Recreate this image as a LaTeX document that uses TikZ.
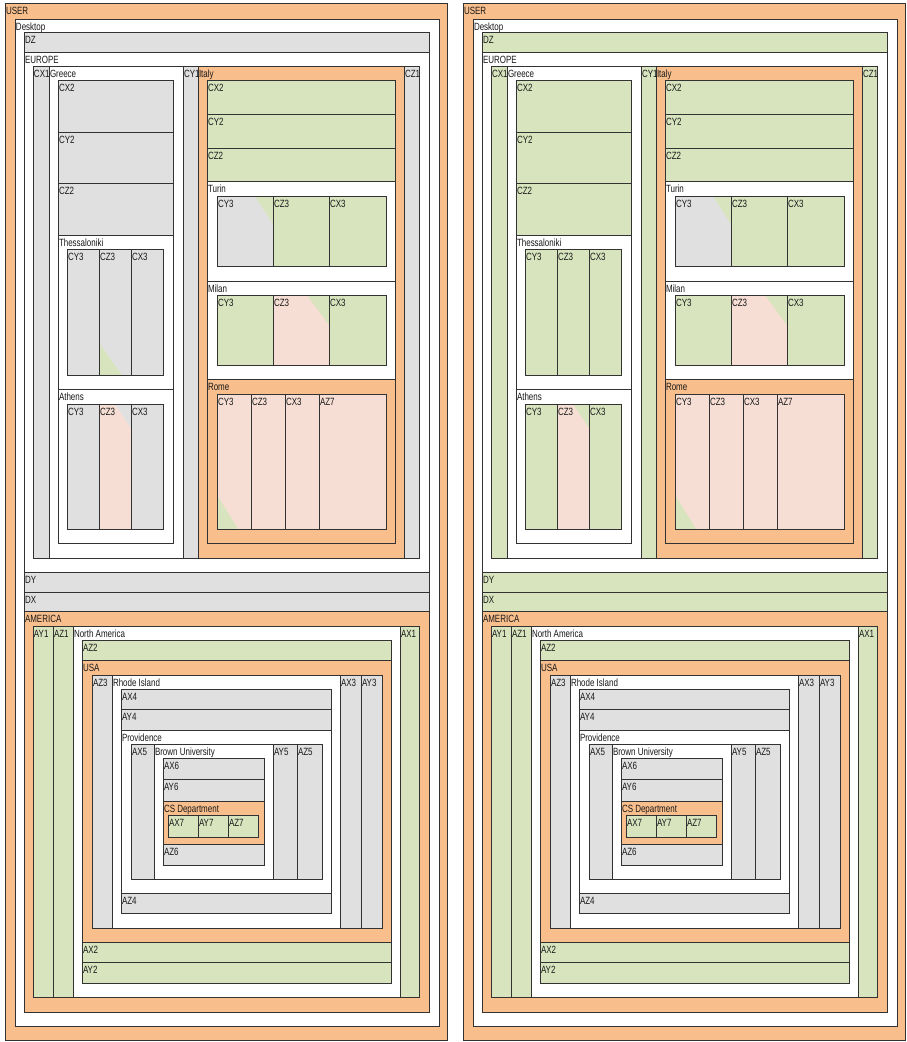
\documentclass[tikz,border=0pt]{standalone}
\usepackage{fontspec}
\setmainfont{Liberation Sans}[FakeStretch=0.76]
\usepackage{tikz}
\definecolor{BoxOrange}{RGB}{248,190,140}
\definecolor{BoxGreen}{RGB}{216,228,190}
\definecolor{BoxGray}{RGB}{224,224,224}
\definecolor{BoxPink}{RGB}{246,222,212}
\definecolor{LineGray}{RGB}{50,50,50}

% one box with its label: name, fill, x1, y1, x2, y2, text
\newcommand{\bx}[7]{%
  \draw[box,fill=#2] (#3,#4) rectangle (#5,#6);
  \node[lbl] (#1) at (#3,#4) {#7};}

% one whole panel: name prefix, fill of the boxes that change
\newcommand{\panel}[2]{%
  \bx{#1user}{BoxOrange}{5}{3}{447}{1040}{USER}
  \bx{#1desktop}{white}{15}{19}{439}{1026}{Desktop}
  \bx{#1dz}{#2}{24}{32}{429}{52}{DZ}
  \bx{#1europe}{white}{24}{52}{429}{572}{EUROPE}
  % Greece
  \bx{#1greece}{white}{49}{66}{183}{558}{Greece}
  \bx{#1grcx}{#2}{58}{80}{173}{132}{CX2}
  \bx{#1grcy}{#2}{58}{132}{173}{183}{CY2}
  \bx{#1grcz}{#2}{58}{183}{173}{235}{CZ2}
  \bx{#1thess}{white}{58}{235}{173}{389}{Thessaloniki}
  \bx{#1thcy}{#2}{67}{249}{99}{375}{CY3}
  \bx{#1thcz}{#2}{99}{249}{131}{375}{CZ3}
  \fill[BoxGreen] (99,343) -- (99,375) -- (122,375) -- cycle;
  \draw[box] (99,249) rectangle (131,375);
  \bx{#1thcx}{#2}{131}{249}{163}{375}{CX3}
  \bx{#1athens}{white}{58}{389}{173}{543}{Athens}
  \bx{#1atcy}{#2}{67}{404}{99}{529}{CY3}
  \bx{#1atcz}{BoxPink}{99}{404}{131}{529}{CZ3}
  \fill[#2] (115,404) -- (131,404) -- (131,428) -- cycle;
  \draw[box] (99,404) rectangle (131,529);
  \bx{#1atcx}{#2}{131}{404}{163}{529}{CX3}
  \bx{#1cxone}{#2}{33}{66}{49}{558}{CX1}
  % Italy
  \bx{#1italy}{BoxOrange}{198}{66}{404}{558}{Italy}
  \bx{#1itcx}{BoxGreen}{207}{80}{395}{114}{CX2}
  \bx{#1itcy}{BoxGreen}{207}{114}{395}{148}{CY2}
  \bx{#1itcz}{BoxGreen}{207}{148}{395}{181}{CZ2}
  \bx{#1turin}{white}{207}{181}{395}{281}{Turin}
  \bx{#1tucy}{BoxGray}{217}{196}{273}{266}{CY3}
  \fill[BoxGreen] (255,196) -- (273,196) -- (273,224) -- cycle;
  \draw[box] (217,196) rectangle (273,266);
  \bx{#1tucz}{BoxGreen}{273}{196}{329}{266}{CZ3}
  \bx{#1tucx}{BoxGreen}{329}{196}{386}{266}{CX3}
  \bx{#1milan}{white}{207}{281}{395}{379}{Milan}
  \bx{#1micy}{BoxGreen}{217}{295}{273}{365}{CY3}
  \bx{#1micz}{BoxPink}{273}{295}{329}{365}{CZ3}
  \fill[BoxGreen] (307,295) -- (329,295) -- (329,325) -- cycle;
  \draw[box] (273,295) rectangle (329,365);
  \bx{#1micx}{BoxGreen}{329}{295}{386}{365}{CX3}
  \bx{#1rome}{BoxOrange}{207}{379}{395}{543}{Rome}
  \bx{#1rocy}{BoxPink}{217}{394}{251}{529}{CY3}
  \fill[BoxGreen] (217,495) -- (217,529) -- (238,529) -- cycle;
  \draw[box] (217,394) rectangle (251,529);
  \bx{#1rocz}{BoxPink}{251}{394}{285}{529}{CZ3}
  \bx{#1rocx}{BoxPink}{285}{394}{319}{529}{CX3}
  \bx{#1roaz}{BoxPink}{319}{394}{386}{529}{AZ7}
  \bx{#1cyone}{#2}{183}{66}{198}{558}{CY1}
  \bx{#1czone}{#2}{404}{66}{419}{558}{CZ1}
  \bx{#1dy}{#2}{24}{572}{429}{592}{DY}
  \bx{#1dx}{#2}{24}{592}{429}{611}{DX}
  % America
  \bx{#1america}{BoxOrange}{24}{611}{429}{1012}{AMERICA}
  \bx{#1north}{white}{73}{626}{400}{997}{North America}
  \bx{#1aztwo}{BoxGreen}{82}{640}{391}{660}{AZ2}
  \bx{#1usa}{BoxOrange}{82}{660}{391}{942}{USA}
  \bx{#1rhode}{white}{112}{675}{340}{928}{Rhode Island}
  \bx{#1axfour}{BoxGray}{121}{689}{331}{709}{AX4}
  \bx{#1ayfour}{BoxGray}{121}{709}{331}{730}{AY4}
  \bx{#1provid}{white}{121}{730}{331}{893}{Providence}
  \bx{#1brown}{white}{154}{744}{273}{879}{Brown University}
  \bx{#1axsix}{BoxGray}{163}{758}{264}{779}{AX6}
  \bx{#1aysix}{BoxGray}{163}{779}{264}{801}{AY6}
  \bx{#1csdept}{BoxOrange}{163}{801}{264}{844}{CS Department}
  \bx{#1axseven}{BoxGreen}{168}{815}{198}{837}{AX7}
  \bx{#1ayseven}{BoxGreen}{198}{815}{228}{837}{AY7}
  \bx{#1azseven}{BoxGreen}{228}{815}{258}{837}{AZ7}
  \bx{#1azsix}{BoxGray}{163}{844}{264}{865}{AZ6}
  \bx{#1axfive}{BoxGray}{131}{744}{154}{879}{AX5}
  \bx{#1ayfive}{BoxGray}{273}{744}{297}{879}{AY5}
  \bx{#1azfive}{BoxGray}{297}{744}{322}{879}{AZ5}
  \bx{#1azfour}{BoxGray}{121}{893}{331}{913}{AZ4}
  \bx{#1azthree}{BoxGray}{92}{675}{112}{928}{AZ3}
  \bx{#1axthree}{BoxGray}{340}{675}{361}{928}{AX3}
  \bx{#1aythree}{BoxGray}{361}{675}{382}{928}{AY3}
  \bx{#1axtwo}{BoxGreen}{82}{942}{391}{962}{AX2}
  \bx{#1aytwo}{BoxGreen}{82}{962}{391}{983}{AY2}
  \bx{#1ayone}{BoxGreen}{33}{626}{53}{997}{AY1}
  \bx{#1azone}{BoxGreen}{53}{626}{73}{997}{AZ1}
  \bx{#1axone}{BoxGreen}{400}{626}{419}{997}{AX1}}

\begin{document}
\begin{tikzpicture}[x=1pt,y=-1pt,
  box/.style={draw=LineGray,line width=0.9pt},
  lbl/.style={anchor=base west,inner sep=0pt,xshift=0.8pt,yshift=-11.5pt,
    font=\fontsize{10.5}{11}\selectfont,text=black!90}]
  \useasboundingbox (0,0) rectangle (907,1042);
  \begin{scope}[shift={(0,0)}]
    \panel{l}{BoxGray}
  \end{scope}
  \begin{scope}[shift={(458,0)}]
    \panel{r}{BoxGreen}
  \end{scope}
\end{tikzpicture}
\end{document}
